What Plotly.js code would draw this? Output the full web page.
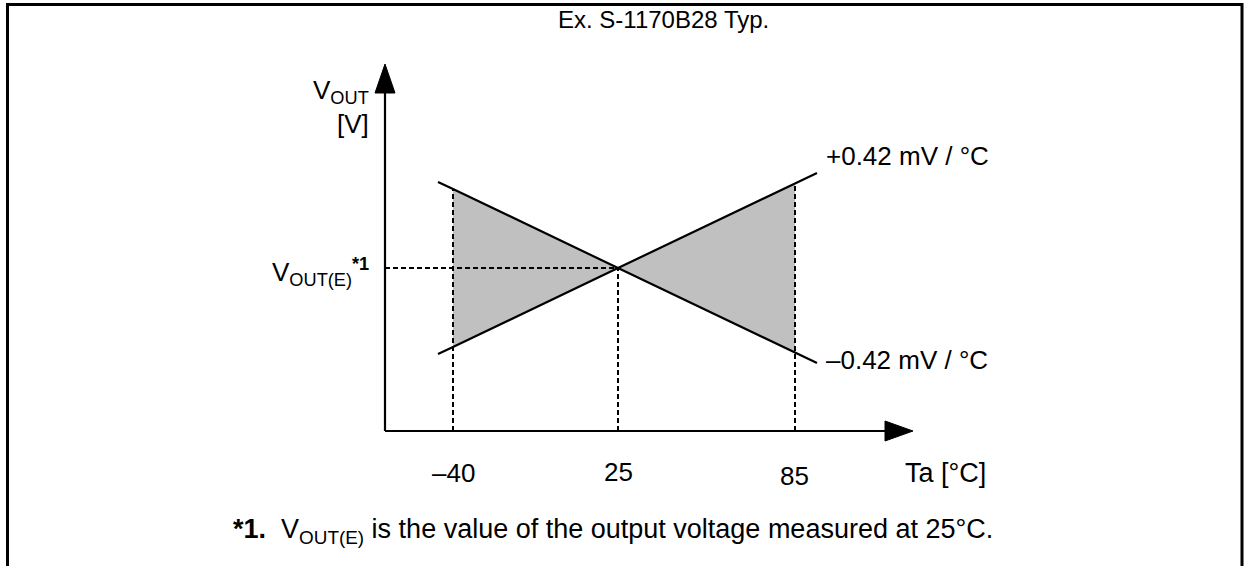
<!DOCTYPE html>
<html>
<head>
<meta charset="utf-8">
<script src="https://cdn.plot.ly/plotly-3.0.1.min.js"></script>
<style>
  html, body { margin: 0; padding: 0; background: #ffffff; }
  #chart { width: 1245px; height: 566px; }
</style>
</head>
<body>
<div id="chart"></div>
<script>
// ---- Data (schematic diagram units) ----
const tempLabels = ['\u201340', '25', '85'];          // Ta tick labels [°C]
const tempPos = [68, 233, 410];                        // schematic position of each Ta tick
const lineX = [53, 68, 233, 410, 432];                 // sample points along the two slope lines
const plusLine = [77, 84, 163, 248, 258];              // +0.42 mV/°C line
const minusLine = [249, 242, 163, 78, 68];             // -0.42 mV/°C line
const voutE = 163;                                     // V_OUT(E) level at 25 °C
const slopeLabels = ['+0.42 mV / \u00B0C', '\u20130.42 mV / \u00B0C'];

// ---- Geometry / style ----
const W = 1245, H = 566;
const ox = 385, oy = 431;            // pixel of diagram origin
const FONT = 'Liberation Sans, Arial, sans-serif';
const FS = 26;
const px = x => x / W;
const py = y => 1 - y / H;

const traces = [];

// shaded bow-tie between the two lines from -40 to 85
const iL = lineX.indexOf(tempPos[0]);
const iC = lineX.indexOf(tempPos[1]);
const iR = lineX.indexOf(tempPos[2]);
traces.push({
  type: 'scatter', mode: 'none', fill: 'toself', fillcolor: '#c0c0c0',
  x: [lineX[iL], lineX[iC], lineX[iR], lineX[iR], lineX[iC], lineX[iL], lineX[iL]],
  y: [minusLine[iL], voutE, plusLine[iR], minusLine[iR], voutE, plusLine[iL], minusLine[iL]],
  hoverinfo: 'skip'
});

// dashed guide lines (vertical at each tick, horizontal at V_OUT(E))
const dashStyle = {color: '#000', width: 2, dash: '5px,3px'};
tempPos.forEach((t) => {
  const i = lineX.indexOf(t);
  traces.push({
    type: 'scatter', mode: 'lines', x: [t, t],
    y: [0, Math.max(plusLine[i], minusLine[i])],
    line: dashStyle, hoverinfo: 'skip'
  });
});
traces.push({
  type: 'scatter', mode: 'lines', x: [0, tempPos[1]], y: [voutE, voutE],
  line: dashStyle, hoverinfo: 'skip'
});

// the two slope lines
traces.push({type: 'scatter', mode: 'lines', x: lineX, y: plusLine,
  line: {color: '#000', width: 2.2}, hoverinfo: 'skip'});
traces.push({type: 'scatter', mode: 'lines', x: lineX, y: minusLine,
  line: {color: '#000', width: 2.2}, hoverinfo: 'skip'});

// axes with arrow heads
const yTip = 367, yBase = 338, xTip = 528, xBase = 500, half = 10;
const shapes = [
  {type: 'line', xref: 'x', yref: 'y', x0: 0, y0: 0, x1: 0, y1: yBase, line: {color: '#000', width: 2.2}},
  {type: 'line', xref: 'x', yref: 'y', x0: 0, y0: 0, x1: xBase, y1: 0, line: {color: '#000', width: 2.2}},
  {type: 'path', xref: 'x', yref: 'y',
   path: `M ${-half} ${yBase} L 0 ${yTip} L ${half} ${yBase} Z`, fillcolor: '#000', line: {color: '#000', width: 1}},
  {type: 'path', xref: 'x', yref: 'y',
   path: `M ${xBase} ${-half} L ${xTip} 0 L ${xBase} ${half} Z`, fillcolor: '#000', line: {color: '#000', width: 1}},
  // frame
  {type: 'path', xref: 'paper', yref: 'paper',
   path: `M ${px(7.5)} ${py(570)} L ${px(7.5)} ${py(4.5)} L ${px(1242)} ${py(4.5)} L ${px(1242)} ${py(570)}`,
   line: {color: '#000', width: 3}}
];

const ann = (text, x, y, xanchor, size) => ({
  text, x: px(x), y: py(y), xref: 'paper', yref: 'paper',
  xanchor, yanchor: 'middle', showarrow: false,
  font: {family: FONT, size: size || FS, color: '#000'}
});

const annotations = [
  ann('Ex. S-1170B28 Typ.', 663, 19, 'center', 24),
  ann('V<sub>OUT</sub>', 371, 91, 'right'),
  ann('[V]', 371, 124, 'right'),
  ann('V<sub>OUT(E)</sub><sup><b>*1</b></sup>', 371, 272, 'right'),
  ann(slopeLabels[0], 824, 156, 'left'),
  ann(slopeLabels[1], 824, 360, 'left'),
  ann('Ta [\u00B0C]', 903, 473, 'left', 27),
  ann('<b>*1.</b>  V<sub>OUT(E)</sub> is the value of the output voltage measured at 25\u00B0C.', 231, 531, 'left', 27)
];
const tickY = [473, 472, 476];
tempLabels.forEach((lbl, i) => annotations.push(ann(lbl, ox + tempPos[i], tickY[i], 'center')));

const layout = {
  width: W, height: H, autosize: false,
  margin: {l: 0, r: 0, t: 0, b: 0, pad: 0},
  paper_bgcolor: '#fff', plot_bgcolor: '#fff',
  showlegend: false,
  xaxis: {range: [-ox, W - ox], visible: false, fixedrange: true},
  yaxis: {range: [oy - H, oy], visible: false, fixedrange: true},
  shapes, annotations
};

Plotly.newPlot('chart', traces, layout, {staticPlot: true, displayModeBar: false});
</script>
</body>
</html>
